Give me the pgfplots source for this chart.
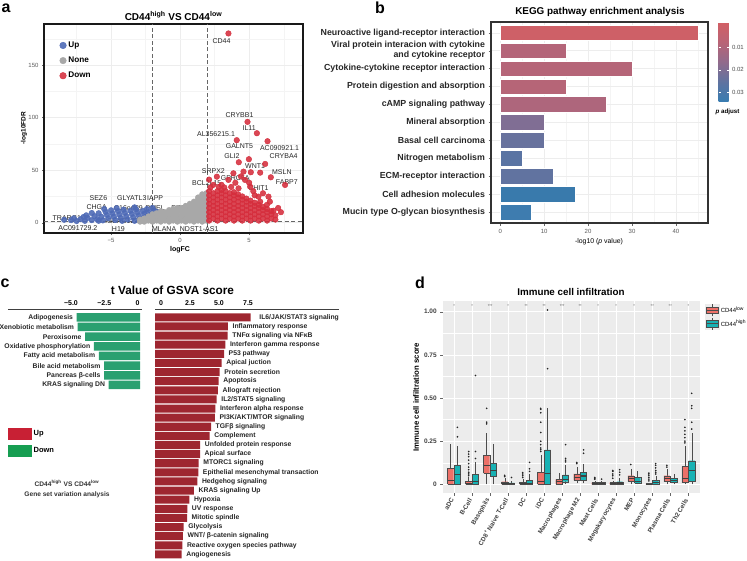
\documentclass[border=0pt]{standalone}
\usepackage{fontspec}
\setmainfont{Liberation Sans}
\usepackage{pgfplots}
\pgfplotsset{compat=1.18}
\pgfplotsset{/pgf/number format/assume math mode=true}
\newcommand\fs[1]{\fontsize{#1pt}{\dimexpr #1pt*13/10\relax}\selectfont}
\definecolor{upc}{RGB}{78,106,182}
\definecolor{nonec}{RGB}{168,168,168}
\definecolor{downc}{RGB}{213,45,60}
\definecolor{gsvaup}{RGB}{158,38,48}
\definecolor{gsvadn}{RGB}{42,160,112}
\definecolor{legup}{RGB}{200,32,52}
\definecolor{legdn}{RGB}{22,158,82}
\definecolor{lowc}{RGB}{236,112,104}
\definecolor{highc}{RGB}{24,178,180}
\definecolor{k1}{RGB}{206,96,103}
\definecolor{k2}{RGB}{180,101,121}
\definecolor{k3}{RGB}{181,101,120}
\definecolor{k4}{RGB}{182,101,119}
\definecolor{k5}{RGB}{174,102,124}
\definecolor{k6}{RGB}{128,110,148}
\definecolor{k7}{RGB}{104,114,157}
\definecolor{k8}{RGB}{90,116,163}
\definecolor{k9}{RGB}{97,115,160}
\definecolor{k10}{RGB}{57,122,172}
\definecolor{k11}{RGB}{62,124,175}
% box: center, left, right, colour, lower whisker, q1, median, q3, upper whisker
\newcommand{\bx}[9]{%
\addplot[forget plot, draw=black!70, line width=0.35pt] coordinates {(#1,#5) (#1,#9)};
\addplot[forget plot, draw=black!70, line width=0.35pt, fill=#4] coordinates {(#2,#6) (#3,#6) (#3,#8) (#2,#8) (#2,#6)};
\addplot[forget plot, draw=black!75, line width=1.1pt] coordinates {(#2,#7) (#3,#7)};}
\begin{document}
\begin{tikzpicture}
\path[use as bounding box] (0pt,0pt) rectangle (747pt,-560pt);
% panel letters
\node[font=\bfseries\fs{16}] at (6pt,-8pt) {a};
\node[font=\bfseries\fs{16}] at (380pt,-8pt) {b};
\node[font=\bfseries\fs{16}] at (5pt,-283pt) {c};
\node[font=\bfseries\fs{16}] at (420pt,-283pt) {d};
% ================= panel a =================
\node[font=\bfseries\fs{10}] at (173.5pt,-16pt) {CD44\textsuperscript{high} VS CD44\textsuperscript{low}};
\node[font=\bfseries\fs{7}] at (180pt,-250pt) {logFC};
\node[font=\bfseries\fs{6.5}, rotate=90] at (24pt,-128pt) {-log10FDR};
\begin{axis}[at={(44pt,-24pt)}, anchor=north west, scale only axis, width=259pt, height=209pt,
 xmin=-9.86, xmax=8.9, ymin=-9.8, ymax=189,
 xtick={-5,0,5}, xticklabels={−5,0,5}, ytick={0,50,100,150}, yticklabels={0,50,100,150},
 minor xtick={-7.5,-2.5,2.5,7.5}, minor ytick={25,75,125,175},
 grid=both, major grid style={gray!14, line width=0.5pt}, minor grid style={gray!9, line width=0.3pt},
 axis line style={black!90, line width=1.1pt},
 tick pos=left, tick align=outside, major tick length=2pt, minor tick length=0pt, tick style={black!60,line width=0.4pt},
 tick label style={font=\fs{6}, text=black!65},
 legend style={at={(axis description cs:0.06,0.925)}, anchor=north west, draw=none, fill=none, font=\bfseries\fs{8.2}, row sep=4pt, inner sep=0pt},
 legend cell align=left,
 legend image code/.code={\draw[#1, mark size=3.3pt] plot coordinates {(4pt,0pt)};},
]
\addplot[only marks, mark=*, mark size=2.8pt, color=upc, mark options={draw=none, fill=upc, fill opacity=0.9}] coordinates {
(-7.9,2.4) (-7.5,1.6) (-7.2,3.4) (-6.9,1.8) (-6.7,4.6) (-6.4,2.4) (-6.2,6.2) (-6.0,3.2) (-5.9,9.0) (-5.7,5.6) (-5.6,2.2) (-5.4,10.4) (-5.3,7.4) (-5.2,4.2) (-5.0,11.8) (-4.9,8.8) (-4.8,5.8) (-4.7,2.6) (-4.5,11.0) (-4.4,7.8) (-4.3,4.6) (-4.1,12.4) (-4.0,9.4) (-3.9,6.2) (-3.8,3.0) (-3.6,11.4) (-3.5,8.4) (-3.4,5.2) (-3.2,12.8) (-3.1,9.8) (-3.0,6.8) (-2.9,3.8) (-2.7,11.2) (-2.6,8.4) (-2.5,5.6) (-2.4,13.0) (-2.3,10.0) (-2.2,7.2) (-2.1,4.2) (-1.9,11.6) (-1.8,8.8) (-1.7,6.0) (-6.8,7.0) (-7.7,4.2) (-5.5,13.0) (-4.6,13.8) (-3.3,14.6) (-2.0,14.0) (-6.4,9.2) (-1.6,10.2) (-5.9,1.8) (-4.2,1.8) (-3.3,1.8) (-2.6,1.8) (-1.9,2.4) (-8.4,2.8) (-7.0,5.4)};
\addlegendentry{Up}
\addplot[only marks, mark=*, mark size=2.8pt, color=nonec, mark options={draw=none, fill=nonec}] coordinates {
(-2.9,1) (-2.9,3) (-2.6,1) (-2.6,4) (-2.3,2) (-2.3,6) (-2.0,1) (-2.0,4) (-2.0,8) (-1.7,2) (-1.7,6) (-1.7,9)
(-1.4,1) (-1.4,4) (-1.4,8) (-1.4,11) (-1.1,2) (-1.1,6) (-1.1,10) (-0.8,1) (-0.8,4) (-0.8,8) (-0.8,12)
(-0.5,2) (-0.5,6) (-0.5,10) (-0.5,13) (-0.2,1) (-0.2,4) (-0.2,8) (-0.2,12) (-0.2,14) (0.1,2) (0.1,6) (0.1,10) (0.1,14)
(0.4,1) (0.4,4) (0.4,8) (0.4,12) (0.4,16) (0.7,2) (0.7,6) (0.7,10) (0.7,14) (0.7,18)
(1.0,1) (1.0,4) (1.0,8) (1.0,12) (1.0,16) (1.0,20) (1.3,2) (1.3,6) (1.3,10) (1.3,14) (1.3,18) (1.3,22) (1.3,24)
(1.6,1) (1.6,4) (1.6,8) (1.6,12) (1.6,16) (1.6,20) (1.6,24) (1.6,27) (1.9,2) (1.9,6) (1.9,10) (1.9,14) (1.9,18) (1.9,22) (1.9,26) (1.9,28)};
\addlegendentry{None}
\addplot[only marks, mark=*, mark size=2.8pt, color=downc, mark options={draw=none, fill=downc, fill opacity=0.88}] coordinates {
(2.1,2)(2.1,6)(2.1,10)(2.1,14)(2.1,18)(2.1,22)(2.1,26)(2.1,30)
(2.4,4)(2.4,8)(2.4,12)(2.4,16)(2.4,20)(2.4,24)(2.4,28)
(2.7,2)(2.7,6)(2.7,10)(2.7,14)(2.7,18)(2.7,22)(2.7,26)(2.7,30)
(3.0,4)(3.0,8)(3.0,12)(3.0,16)(3.0,20)(3.0,24)(3.0,28)(3.0,31)
(3.3,2)(3.3,6)(3.3,10)(3.3,14)(3.3,18)(3.3,22)(3.3,26)(3.3,30)
(3.6,4)(3.6,8)(3.6,12)(3.6,16)(3.6,20)(3.6,24)(3.6,28)
(3.9,2)(3.9,6)(3.9,10)(3.9,14)(3.9,18)(3.9,22)(3.9,26)(3.9,29)
(4.2,4)(4.2,8)(4.2,12)(4.2,16)(4.2,20)(4.2,24)(4.2,27)
(4.5,2)(4.5,6)(4.5,10)(4.5,14)(4.5,18)(4.5,22)(4.5,25)
(4.8,4)(4.8,8)(4.8,12)(4.8,16)(4.8,20)(4.8,23)
(5.1,2)(5.1,6)(5.1,10)(5.1,14)(5.1,18)(5.1,21)
(5.4,4)(5.4,8)(5.4,12)(5.4,16)(5.4,19)
(5.7,2)(5.7,6)(5.7,10)(5.7,14)(5.7,17)
(6.0,4)(6.0,8)(6.0,12)(6.0,15)
(6.3,2)(6.3,6)(6.3,10)(6.3,13)
(6.6,4)(6.6,8)(6.6,11)
(6.9,3)(6.9,7)
(2.66,43.8)(3.86,47)(3.5,40.7)(4.59,48.6)(4.7,40.7)(4.23,32.7)(5.07,34.3)(5.67,24.8)(6.4,24.8)(6.76,11.4)(6.28,16.9)(5.8,20)(2.1,41)(2.4,36)(3.0,36)(4.0,38)(4.4,44)(5.3,30)(6.0,28)(3.5,180)(4.88,95.9)(5.56,85.1)(4.1,78.5)(6.33,77.5)(4.25,57.5)(4.98,60.4)(6.16,55.9)(5.12,48)(5.8,47.6)(6.57,43.2)(7.6,35.9)(2.2,33.5)(2.8,34)(3.2,33.5)(3.7,34)(7.1,14)(6.5,20)(5.4,26)(7.3,10)(5.0,38)};
\addlegendentry{Down}
\addplot[forget plot, color=black!60, dash pattern=on 4pt off 2.5pt, line width=0.8pt] coordinates {(-2,-9.8) (-2,189)};
\addplot[forget plot, color=black!60, dash pattern=on 4pt off 2.5pt, line width=0.8pt] coordinates {(2,-9.8) (2,189)};
\addplot[forget plot, color=black!60, dash pattern=on 4pt off 2.5pt, line width=0.8pt] coordinates {(-9.86,1.3) (8.9,1.3)};
\begin{scope}[every node/.style={font=\fs{7}, text=black!85, inner sep=0pt}]
\node at (axis cs:3.0,173) {CD44};
\node at (axis cs:4.3,101.9) {CRYBB1};
\node at (axis cs:5.0,89.9) {IL11};
\node at (axis cs:2.6,84.2) {AL356215.1};
\node at (axis cs:7.2,70.8) {AC090921.1};
\node at (axis cs:4.3,72.4) {GALNT5};
\node at (axis cs:3.75,63.8) {GLI2};
\node at (axis cs:7.5,62.9) {CRYBA4};
\node at (axis cs:5.43,54.3) {WNT1};
\node at (axis cs:7.37,48.6) {MSLN};
\node at (axis cs:2.41,49.2) {SRPX2};
\node at (axis cs:3.99,42.3) {GPRC5A};
\node at (axis cs:1.93,37.5) {BCL2L15};
\node at (axis cs:5.67,32.7) {CHIT1};
\node at (axis cs:7.73,38.5) {FABP7};
\node at (axis cs:-5.92,23.2) {SEZ6};
\node at (axis cs:-3.5,23.2) {GLYATL3};
\node at (axis cs:-1.81,23.2) {IAPP};
\node at (axis cs:-6.04,15.3) {CHGA};
\node at (axis cs:-3.74,14.3) {C16orf89};
\node at (axis cs:-1.81,14.3) {PMEL};
\node at (axis cs:0.19,13.7) {DDX25};
\node at (axis cs:-8.2,4.2) {TRARG1};
\node at (axis cs:-0.24,4.2) {MEIOB};
\node at (axis cs:-5.0,1.9) {IGE};
\node at (axis cs:-3.17,1.9) {AC122713.2};
\node at (axis cs:-7.41,-5.4) {AC091729.2};
\node at (axis cs:-4.47,-6) {H19};
\node at (axis cs:-1.16,-6) {MLANA};
\node at (axis cs:1.38,-6) {NDST1-AS1};
\end{scope}
\end{axis}
% ================= panel b =================
\node[font=\bfseries\fs{9.9}] at (600pt,-12pt) {KEGG pathway enrichment analysis};
\node[font=\fs{6.9}] at (599pt,-241.5pt) {-log10 (\textit{p} value)};
\node[font=\bfseries\fs{6.2}] at (727.5pt,-112pt) {\textit{p} adjust};
\begin{axis}[at={(491pt,-22pt)}, anchor=north west, scale only axis, width=217pt, height=201pt,
 xmin=-2.1, xmax=47.3, ymin=-0.6, ymax=10.6, y dir=reverse,
 xtick={0,10,20,30,40}, minor xtick={5,15,25,35,45}, ytick={0,1,2,3,4,5,6,7,8,9,10},
 yticklabels={Neuroactive ligand-receptor interaction,{Viral protein interacion with cytokine\\and cytokine receptor},Cytokine-cytokine receptor interaction,Protein digestion and absorption,cAMP signaling pathway,Mineral absorption,Basal cell carcinoma,Nitrogen metabolism,ECM-receptor interaction,Cell adhesion molecules,Mucin type O-glycan biosynthesis},
 yticklabel style={font=\bfseries\fontsize{8.8pt}{10pt}\selectfont, align=right, text=black!85},
 xticklabel style={font=\fs{6}, text=black!65},
 grid=both, major grid style={gray!14, line width=0.5pt}, minor grid style={gray!9, line width=0.3pt},
 axis line style={black!80, line width=1.1pt},
 tick pos=left, tick align=outside, major tick length=2.5pt, minor tick length=0pt, tick style={black!60,line width=0.4pt},
 colorbar, colormap={kegg}{rgb255=(55,125,178) rgb255=(95,115,160) rgb255=(145,107,140) rgb255=(185,100,118) rgb255=(210,95,100)},
 point meta min=-0.0345, point meta max=0.0015,
 colorbar style={at={(parent axis.north east)}, anchor=north west, xshift=2pt, scale only axis, width=10pt, height=80pt,
   ytick={-0.03,-0.02,-0.01}, yticklabels={0.03,0.02,0.01}, scaled y ticks=false, yticklabel pos=right,
   yticklabel style={font=\fs{6}, text=black!70}, major tick length=2pt, tick style={white}, axis line style={draw=none}},
]
\addplot[xbar, bar shift=0pt, bar width=0.88, fill=k1, draw=white, line width=0.4pt] coordinates {(45,0)};
\addplot[xbar, bar shift=0pt, bar width=0.88, fill=k2, draw=white, line width=0.4pt] coordinates {(15.1,1)};
\addplot[xbar, bar shift=0pt, bar width=0.88, fill=k3, draw=white, line width=0.4pt] coordinates {(30,2)};
\addplot[xbar, bar shift=0pt, bar width=0.88, fill=k4, draw=white, line width=0.4pt] coordinates {(15.1,3)};
\addplot[xbar, bar shift=0pt, bar width=0.88, fill=k5, draw=white, line width=0.4pt] coordinates {(24.1,4)};
\addplot[xbar, bar shift=0pt, bar width=0.88, fill=k6, draw=white, line width=0.4pt] coordinates {(10,5)};
\addplot[xbar, bar shift=0pt, bar width=0.88, fill=k7, draw=white, line width=0.4pt] coordinates {(10,6)};
\addplot[xbar, bar shift=0pt, bar width=0.88, fill=k8, draw=white, line width=0.4pt] coordinates {(5,7)};
\addplot[xbar, bar shift=0pt, bar width=0.88, fill=k9, draw=white, line width=0.4pt] coordinates {(12,8)};
\addplot[xbar, bar shift=0pt, bar width=0.88, fill=k10, draw=white, line width=0.4pt] coordinates {(17,9)};
\addplot[xbar, bar shift=0pt, bar width=0.88, fill=k11, draw=white, line width=0.4pt] coordinates {(7,10)};
\end{axis}
% ================= panel c =================
\node[font=\bfseries\fs{11.8}] at (172.5pt,-290pt) {t Value of GSVA score};
\node[font=\bfseries\fs{6.6}, text=black!80] at (67pt,-483pt) {CD44\textsuperscript{high} VS CD44\textsuperscript{low}};
\node[font=\bfseries\fs{6.6}, text=black!80] at (67pt,-495pt) {Gene set variation analysis};
\begin{axis}[at={(8pt,-309pt)}, anchor=north west, scale only axis, width=134pt, height=81pt,
 xmin=-9.92, xmax=0.15, ymin=-0.86, ymax=7.52, y dir=reverse,
 axis x line*=top, axis y line=none, clip=false,
 x axis line style={-, black!75, line width=0.9pt},
 xtick={-5,-2.5,0}, xticklabels={−5.0,−2.5,0}, xticklabel style={font=\bfseries\fs{7}, xshift=-2.5pt},
 major tick length=0pt,
 legend style={at={(axis description cs:0.0,-0.47)}, anchor=north west, draw=none, fill=none, font=\bfseries\fs{7.5}, row sep=5pt, inner sep=0pt},
 legend cell align=left,
]
\addlegendimage{legend image code/.code={\fill[legup] (0pt,-5.5pt) rectangle (23pt,5.5pt);}}
\addlegendentry{Up}
\addlegendimage{legend image code/.code={\fill[legdn] (0pt,-5.5pt) rectangle (23pt,5.5pt);}}
\addlegendentry{Down}
\addplot[xbar, bar shift=0pt, bar width=0.88, fill=gsvadn, draw=none] coordinates {(-4.76,0) (-4.68,1) (-4.13,2) (-3.46,3) (-3.1,4) (-2.7,5) (-2.7,6) (-2.35,7)};
\begin{scope}[every node/.style={font=\bfseries\fs{6.8}, anchor=east, xshift=-3.5pt, inner sep=0pt, text=black!85}]
\node at (axis cs:-4.76,0) {Adipogenesis};
\node at (axis cs:-4.68,1) {Xenobiotic metabolism};
\node at (axis cs:-4.13,2) {Peroxisome};
\node at (axis cs:-3.46,3) {Oxidative phosphorylation};
\node at (axis cs:-3.1,4) {Fatty acid metabolism};
\node at (axis cs:-2.7,5) {Bile acid metabolism};
\node at (axis cs:-2.7,6) {Pancreas β-cells};
\node at (axis cs:-2.35,7) {KRAS signaling DN};
\end{scope}
\end{axis}
\begin{axis}[at={(155pt,-309pt)}, anchor=north west, scale only axis, width=184pt, height=250pt,
 xmin=0, xmax=15.86, ymin=-0.91, ymax=26.5, y dir=reverse,
 axis x line*=top, axis y line=none, clip=false,
 x axis line style={-, black!75, line width=0.9pt},
 xtick={0,2.5,5,7.5}, xticklabels={0,2.5,5.0,7.5}, xticklabel style={font=\bfseries\fs{7}, xshift=6pt},
 major tick length=0pt,
]
\addplot[xbar, bar shift=0pt, bar width=0.88, fill=gsvaup, draw=none] coordinates {(8.25,0) (6.29,1) (6.27,2) (6.06,3) (5.95,4) (5.75,5) (5.58,6) (5.49,7) (5.43,8) (5.32,9) (5.2,10) (5.17,11) (4.83,12) (4.71,13) (3.9,14) (3.88,15) (3.77,16) (3.73,17) (3.65,18) (3.36,19) (2.96,20) (2.78,21) (2.76,22) (2.47,23) (2.41,24) (2.36,25) (2.3,26)};
\begin{scope}[every node/.style={font=\bfseries\fs{6.8}, anchor=west, xshift=4.5pt, inner sep=0pt, text=black!85}]
\node[xshift=4pt] at (axis cs:8.25,0) {IL6/JAK/STAT3 signaling};
\node at (axis cs:6.29,1) {Inflammatory response};
\node at (axis cs:6.27,2) {TNFα signaling via NFκB};
\node at (axis cs:6.06,3) {Interferon gamma response};
\node at (axis cs:5.95,4) {P53 pathway};
\node at (axis cs:5.75,5) {Apical juction};
\node at (axis cs:5.58,6) {Protein secretion};
\node at (axis cs:5.49,7) {Apoptosis};
\node at (axis cs:5.43,8) {Allograft rejection};
\node at (axis cs:5.32,9) {IL2/STAT5 signaling};
\node at (axis cs:5.2,10) {Interferon alpha response};
\node at (axis cs:5.17,11) {PI3K/AKT/MTOR signaling};
\node at (axis cs:4.83,12) {TGFβ signaling};
\node at (axis cs:4.71,13) {Complement};
\node at (axis cs:3.9,14) {Unfolded protein response};
\node at (axis cs:3.88,15) {Apical surface};
\node at (axis cs:3.77,16) {MTORC1 signaling};
\node at (axis cs:3.73,17) {Epithelial mesenchymal transaction};
\node at (axis cs:3.65,18) {Hedgehog signaling};
\node at (axis cs:3.36,19) {KRAS signaling Up};
\node at (axis cs:2.96,20) {Hypoxia};
\node at (axis cs:2.78,21) {UV response};
\node at (axis cs:2.76,22) {Mitotic spindle};
\node at (axis cs:2.47,23) {Glycolysis};
\node at (axis cs:2.41,24) {WNT/ β-catenin signaling};
\node at (axis cs:2.36,25) {Reactive oxygen species pathway};
\node at (axis cs:2.3,26) {Angiogenesis};
\end{scope}
\end{axis}
% ================= panel d =================
\node[font=\bfseries\fs{9.8}] at (571pt,-291.5pt) {Immune cell infiltration};
\node[font=\bfseries\fs{7.8}, rotate=90] at (416pt,-397pt) {Immune cell infiltration score};
\begin{axis}[at={(442.7pt,-301pt)}, anchor=north west, scale only axis, width=257.3pt, height=192.3pt,
 xmin=-0.63, xmax=13.65, ymin=-0.052, ymax=1.062,
 axis background/.style={fill=gray!15},
 xtick={0,...,13}, ytick={0,0.25,0.5,0.75,1}, yticklabels={0,0.25,0.50,0.75,1.00},
 minor ytick={0.125,0.375,0.625,0.875},
 xticklabels={aDC,B-Cell,Basophils,CD8\textsuperscript{+} Naive T-Cell,DC,iDC,Macrophages,Macrophage M2,Mast Cells,Megakaryocytes,MEP,Monocytes,Plasma Cells,Th2 Cells},
 xticklabel style={rotate=60, anchor=east, font=\bfseries\fs{6.3}, text=black!75},
 yticklabel style={font=\bfseries\fs{6.5}, text=black!75},
 grid=both, major grid style={white, line width=0.7pt}, minor grid style={white, line width=0.35pt},
 axis line style={draw=none},
 tick pos=left, tick align=outside, major tick length=2.5pt, minor tick length=0pt, tick style={black!60,line width=0.4pt},
 legend style={at={(axis description cs:1.02,0.985)}, anchor=north west, draw=none, fill=none, font=\fs{6}, row sep=1pt, inner sep=0pt, nodes={inner sep=1pt}},
 legend cell align=left,
]
\addlegendimage{legend image code/.code={\fill[gray!15](-1pt,-6pt) rectangle (13pt,6pt); \draw[black!70, line width=0.35pt] (6pt,-6pt)--(6pt,6pt); \draw[black!70, fill=lowc, line width=0.35pt](0pt,-3.2pt) rectangle (12pt,3.2pt); \draw[black!70,line width=0.8pt](0pt,0pt)--(12pt,0pt);}}
\addlegendentry{CD44\textsuperscript{low}}
\addlegendimage{legend image code/.code={\fill[gray!15](-1pt,-6pt) rectangle (13pt,6pt); \draw[black!70, line width=0.35pt] (6pt,-6pt)--(6pt,6pt); \draw[black!70, fill=highc, line width=0.35pt](0pt,-3.2pt) rectangle (12pt,3.2pt); \draw[black!70,line width=0.8pt](0pt,0pt)--(12pt,0pt);}}
\addlegendentry{CD44\textsuperscript{high}}
\bx{-0.19}{-0.36}{-0.02}{lowc}{0}{0}{0.02}{0.094}{0.235}
\bx{0.19}{0.02}{0.36}{highc}{0}{0.003}{0.055}{0.111}{0.22}
\bx{0.81}{0.64}{0.98}{lowc}{0}{0}{0.006}{0.016}{0.04}
\bx{1.19}{1.02}{1.36}{highc}{0}{0.003}{0.016}{0.059}{0.13}
\bx{1.81}{1.64}{1.98}{lowc}{0}{0.064}{0.111}{0.168}{0.30}
\bx{2.19}{2.02}{2.36}{highc}{0}{0.045}{0.078}{0.123}{0.234}
\bx{2.81}{2.64}{2.98}{lowc}{0}{0}{0.005}{0.015}{0.035}
\bx{3.19}{3.02}{3.36}{highc}{0}{0}{0.003}{0.008}{0.02}
\bx{3.81}{3.64}{3.98}{lowc}{0}{0}{0.004}{0.012}{0.03}
\bx{4.19}{4.02}{4.36}{highc}{0}{0.001}{0.004}{0.025}{0.06}
\bx{4.81}{4.64}{4.98}{lowc}{0}{0}{0.014}{0.07}{0.17}
\bx{5.19}{5.02}{5.36}{highc}{0}{0.001}{0.065}{0.2}{0.44}
\bx{5.81}{5.64}{5.98}{lowc}{0}{0.003}{0.016}{0.029}{0.065}
\bx{6.19}{6.02}{6.36}{highc}{0}{0.015}{0.03}{0.055}{0.11}
\bx{6.81}{6.64}{6.98}{lowc}{0.005}{0.025}{0.04}{0.06}{0.1}
\bx{7.19}{7.02}{7.36}{highc}{0.005}{0.025}{0.048}{0.068}{0.12}
\bx{7.81}{7.64}{7.98}{lowc}{0}{0}{0.006}{0.01}{0.018}
\bx{8.19}{8.02}{8.36}{highc}{0}{0.002}{0.006}{0.01}{0.02}
\bx{8.81}{8.64}{8.98}{lowc}{0}{0}{0.003}{0.01}{0.02}
\bx{9.19}{9.02}{9.36}{highc}{0}{0.002}{0.008}{0.015}{0.035}
\bx{9.81}{9.64}{9.98}{lowc}{0}{0.02}{0.032}{0.05}{0.09}
\bx{10.19}{10.02}{10.36}{highc}{0}{0.006}{0.016}{0.042}{0.08}
\bx{10.81}{10.64}{10.98}{lowc}{0}{0}{0.001}{0.004}{0.008}
\bx{11.19}{11.02}{11.36}{highc}{0}{0.002}{0.012}{0.025}{0.05}
\bx{11.81}{11.64}{11.98}{lowc}{0}{0.016}{0.035}{0.05}{0.09}
\bx{12.19}{12.02}{12.36}{highc}{0}{0.01}{0.02}{0.035}{0.06}
\bx{12.81}{12.64}{12.98}{lowc}{0}{0.01}{0.035}{0.103}{0.22}
\bx{13.19}{13.02}{13.36}{highc}{0}{0.016}{0.078}{0.137}{0.30}
\addplot[forget plot, only marks, mark=*, mark size=0.6pt, color=black!85] coordinates {
(0.19,0.275)(0.19,0.33)
(0.81,0.05)(0.81,0.06)(0.81,0.07)(0.81,0.085)(0.81,0.1)(0.81,0.12)(0.81,0.14)(0.81,0.16)(0.81,0.175)(0.81,0.19)
(1.19,0.15)(1.19,0.19)(1.19,0.63)
(1.81,0.35)(1.81,0.36)(1.81,0.44)
(2.81,0.045)(2.81,0.052)
(3.19,0.04)
(3.81,0.04)(3.81,0.05)(3.81,0.06)(3.81,0.068)
(4.19,0.075)(4.19,0.09)(4.19,0.127)
(4.81,0.19)(4.81,0.2)(4.81,0.21)(4.81,0.23)(4.81,0.25)(4.81,0.3)(4.81,0.36)(4.81,0.415)(4.81,0.435)(4.81,0.44)
(5.19,0.67)(5.19,1.01)
(6.19,0.13)(6.19,0.14)(6.19,0.15)(6.19,0.23)
(6.81,0.12)(6.81,0.127)
(7.19,0.18)(7.19,0.2)
(7.81,0.03)(7.81,0.035)(7.81,0.04)
(8.19,0.03)
(8.81,0.035)(8.81,0.05)(8.81,0.06)(8.81,0.075)(8.81,0.08)
(9.19,0.055)(9.19,0.07)(9.19,0.085)
(9.81,0.115)
(10.81,0.02)(10.81,0.03)(10.81,0.04)(10.81,0.05)(10.81,0.06)(10.81,0.065)
(11.19,0.06)(11.19,0.07)(11.19,0.08)(11.19,0.095)(11.19,0.11)(11.19,0.12)
(11.81,0.1)(11.81,0.11)
(12.81,0.24)(12.81,0.25)(12.81,0.27)(12.81,0.29)(12.81,0.31)(12.81,0.33)(12.81,0.375)
(13.19,0.32)(13.19,0.36)(13.19,0.44)(13.19,0.455)(13.19,0.527)};
\begin{scope}[every node/.style={font=\fs{4}, text=black!70, inner sep=0pt}]
\node at (axis cs:0,1.03) {*};
\node at (axis cs:1,1.03) {*};
\node at (axis cs:2,1.03) {***};
\node at (axis cs:3,1.03) {*};
\node at (axis cs:4,1.03) {**};
\node at (axis cs:5,1.03) {**};
\node at (axis cs:6,1.03) {***};
\node at (axis cs:7,1.03) {**};
\node at (axis cs:8,1.03) {*};
\node at (axis cs:9,1.03) {*};
\node at (axis cs:10,1.03) {*};
\node at (axis cs:11,1.03) {**};
\node at (axis cs:12,1.03) {**};
\node at (axis cs:13,1.03) {*};
\end{scope}
\end{axis}
\end{tikzpicture}
\end{document}
